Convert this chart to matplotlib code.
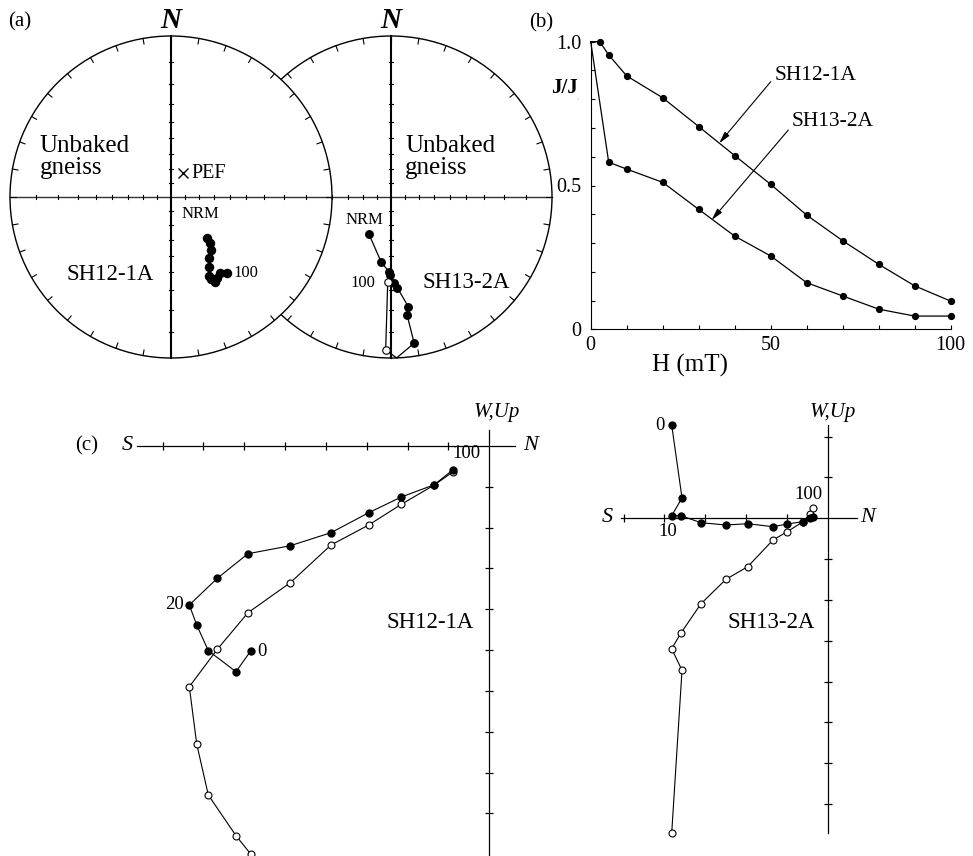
import numpy as np
import matplotlib.pyplot as plt
from matplotlib.patches import Circle

plt.rcParams['font.family'] = ['Liberation Serif', 'DejaVu Serif']

# (a) AF demagnetisation directions: declination / inclination (deg)
sh12_dec = [139.2, 139.5, 143.2, 148.0, 151.2, 154.1, 154.2, 152.5, 150.3, 147.3, 143.7]
sh12_inc = [52.5, 49.1, 45.3, 41.6, 37.4, 32.8, 30.8, 28.7, 29.7, 31.2, 29.4]
sh13_dec = [210.5, 188.8, 181.3, 180.7, 178.0, 176.0, 171.0, 172.2, 171.0, 182.0, 182.2]
sh13_inc = [59.9, 45.8, 39.8, 38.4, 33.9, 31.0, 20.8, 16.8, 4.8, -2.9, -34.4]
sh13_cross_dec = 178.0      # path passes the primitive here
pef_dec, pef_inc = 26.3, 71.4

# (b) normalised remanence vs peak AF field
h_sh12 = [0, 2.5, 5, 10, 20, 30, 40, 50, 60, 70, 80, 90, 100]
j_sh12 = [1.0, 1.0, 0.954, 0.881, 0.805, 0.705, 0.604, 0.504, 0.397, 0.308, 0.226, 0.151, 0.098]
h_sh13 = [0, 5, 10, 20, 30, 40, 50, 60, 70, 80, 90, 100]
j_sh13 = [1.0, 0.581, 0.557, 0.511, 0.417, 0.324, 0.255, 0.162, 0.116, 0.070, 0.046, 0.046]

# (c) vector end-points (one unit = one axis tick)
sh12_n = [-5.844, -6.204, -6.882, -7.166, -7.347, -6.662, -5.910, -4.874, -3.877, -2.954, -2.155, -1.347, -0.896]
sh12_w = [-5.021, -5.528, -5.013, -4.384, -3.894, -3.240, -2.638, -2.442, -2.123, -1.634, -1.249, -0.948, -0.588]
sh12_up = [-9.993, -9.544, -8.548, -7.298, -5.895, -4.979, -4.083, -3.348, -2.425, -1.935, -1.428, -0.955, -0.637]
sh13_n = [-3.821, -3.568, -3.821, -3.593, -3.103, -2.491, -1.959, -1.340, -0.989, -0.617, -0.434, -0.367]
sh13_w = [2.285, 0.497, 0.064, 0.064, -0.108, -0.164, -0.132, -0.206, -0.140, -0.083, 0.0, 0.024]
sh13_up = [-7.715, -3.723, -3.194, -2.809, -2.092, -1.494, -1.185, -0.531, -0.328, -0.09, 0.10, 0.245]

W, H = 973, 856
fig = plt.figure(figsize=(W / 100, H / 100), dpi=100)


def rect(x0, y0, x1, y1):
    return [x0 / W, 1 - y1 / H, (x1 - x0) / W, (y1 - y0) / H]


def ftext(x, y, s, **kw):
    fig.text(x / W, 1 - y / H, s, **kw)


def stereo(dec, inc):
    dec = np.radians(np.asarray(dec, float))
    r = np.tan(np.radians(90 - np.abs(np.asarray(inc, float))) / 2)
    return r * np.sin(dec), r * np.cos(dec)


def net(cx, cy, R=161, pad=1.15):
    ax = fig.add_axes(rect(cx - pad * R, cy - pad * R, cx + pad * R, cy + pad * R))
    ax.set_xlim(-pad, pad)
    ax.set_ylim(-pad, pad)
    ax.axis('off')
    ax.add_patch(Circle((0, 0), 1, fc='white', ec='black', lw=1.0, zorder=0))
    ax.plot([-1, 1], [0, 0], color='#333333', lw=1.0, zorder=1)
    ax.plot([0, 0], [-1, 1], color='black', lw=1.5, zorder=1)
    for a in np.radians(np.arange(0, 360, 10)):
        ax.plot([np.sin(a), 0.965 * np.sin(a)], [np.cos(a), 0.965 * np.cos(a)],
                color='black', lw=0.8, zorder=1)
    d = 0.014
    for r in np.tan(np.radians(90 - np.arange(80, 0, -10)) / 2):
        for s in (-1, 1):
            ax.plot([s * r, s * r], [-d, d], color='black', lw=0.8, zorder=1)
            ax.plot([-d, d], [s * r, s * r], color='black', lw=0.8, zorder=1)
    ax.text(0, 1.095, 'N', ha='center', va='center', fontsize=21,
            fontweight='bold', fontstyle='italic')
    return ax


# ---------------- (a) stereonets ----------------
axr = net(391, 197)
axr.set_zorder(1)
sx, sy = stereo(sh13_dec[:9] + [sh13_cross_dec], sh13_inc[:9] + [0])
axr.plot(sx, sy, color='black', lw=0.9, zorder=3)
sx, sy = stereo(sh13_dec[:9], sh13_inc[:9])
axr.plot(sx, sy, 'o', color='black', ms=5.4, zorder=4)
ox, oy = stereo([sh13_cross_dec] + sh13_dec[9:], [0] + sh13_inc[9:])
axr.plot(ox, oy, color='black', lw=0.9, zorder=3)
axr.plot(ox[1:], oy[1:], 'o', mfc='white', mec='black', mew=0.8, ms=5.4, zorder=4)
axr.text(0.087, 0.248, 'Unbaked\ngneiss', ha='left', va='center', fontsize=18, linespacing=0.95)
axr.text(-0.168, -0.143, 'NRM', ha='center', va='center', fontsize=12)
axr.text(-0.177, -0.534, '100', ha='center', va='center', fontsize=12)
axr.text(0.466, -0.534, 'SH13-2A', ha='center', va='center', fontsize=16.5)

axl = net(171, 197)
axl.set_zorder(2)
lx, ly = stereo(sh12_dec, sh12_inc)
axl.plot(lx, ly, '-o', color='black', lw=0.9, ms=5.8, zorder=4)
px, py = stereo([pef_dec], [pef_inc])
axl.plot(px, py, 'x', color='black', ms=7, mew=1.0, zorder=4)
axl.text(0.13, 0.149, 'PEF', ha='left', va='center', fontsize=14.5)
axl.text(-0.814, 0.248, 'Unbaked\ngneiss', ha='left', va='center', fontsize=18, linespacing=0.95)
axl.text(0.18, -0.105, 'NRM', ha='center', va='center', fontsize=12)
axl.text(0.385, -0.472, '100', ha='left', va='center', fontsize=12)
axl.text(-0.376, -0.484, 'SH12-1A', ha='center', va='center', fontsize=16.5)

ftext(20, 22, '(a)', ha='center', va='center', fontsize=15)

# ---------------- (b) intensity decay ----------------
axb = fig.add_axes(rect(590.7, 41.7, 950.7, 329.3))
axb.plot(h_sh12, j_sh12, '-o', color='black', lw=0.9, ms=4.2, markevery=slice(1, None), clip_on=False)
axb.plot(h_sh13, j_sh13, '-o', color='black', lw=0.9, ms=4.2, markevery=slice(1, None), clip_on=False)
axb.set_xlim(0, 100)
axb.set_ylim(0, 1)
axb.spines[['top', 'right']].set_visible(False)
axb.set_xticks([0, 50, 100], ['0', '50', '100'])
axb.set_xticks(np.arange(0, 101, 10), minor=True)
axb.set_yticks([0, 0.5, 1.0], ['0', '0.5', '1.0'])
axb.set_yticks(np.arange(0, 1.01, 0.1), minor=True)
axb.tick_params(which='both', direction='in', length=3, width=0.8, labelsize=14.5)
axb.tick_params(axis='x', pad=5)
axb.tick_params(axis='y', pad=7)

arrow = dict(arrowstyle='-|>,head_length=0.7,head_width=0.18', lw=0.8, color='black',
             shrinkA=0, shrinkB=0)
axb.annotate('', xy=(35.7, 0.647), xytext=(50.0, 0.861), arrowprops=arrow)
axb.text(51.2, 0.881, 'SH12-1A', ha='left', va='center', fontsize=15.5)
axb.annotate('', xy=(33.6, 0.380), xytext=(54.9, 0.693), arrowprops=arrow)
axb.text(55.9, 0.721, 'SH13-2A', ha='left', va='center', fontsize=15.5)

ftext(690, 365, 'H (mT)', ha='center', va='center', fontsize=18)
ftext(564, 88, 'J/J', ha='center', va='center', fontsize=15, fontweight='bold')
ftext(578, 99, 'o', ha='center', va='center', fontsize=3, color='#bbbbbb')
ftext(541, 23, '(b)', ha='center', va='center', fontsize=15)


# ---------------- (c) orthogonal vector plots ----------------
def zij(box, origin, north, west, up, xb, yb, xt, yt, unit=40.83):
    x0, y0, x1, y1 = box
    cx, cy = origin
    ax = fig.add_axes(rect(*box))
    ax.set_xlim((x0 - cx) / unit, (x1 - cx) / unit)
    ax.set_ylim((cy - y1) / unit, (cy - y0) / unit)
    ax.patch.set_visible(False)
    ax.spines[['top', 'right']].set_visible(False)
    for s, b in (('bottom', xb), ('left', yb)):
        ax.spines[s].set_position(('data', 0))
        ax.spines[s].set_bounds(*b)
        ax.spines[s].set_linewidth(0.9)
    ax.set_xticks(xt)
    ax.set_yticks(yt)
    ax.tick_params(direction='inout', length=6, width=0.9, labelbottom=False, labelleft=False)
    ax.plot(north, up, '-o', color='black', lw=0.8, ms=5, mfc='white', mec='black', mew=0.8)
    ax.plot(north, west, '-o', color='black', lw=0.8, ms=5)
    return ax


az1 = zij((100, 400, 545, 856), (489.3, 446), sh12_n, sh12_w, sh12_up,
          (-8.64, 0.63), (-10.05, 0.39), np.arange(-8, 0), np.arange(-9, 0))
az1.annotate('0', (sh12_n[0], sh12_w[0]), xytext=(5, 0), textcoords='offset points',
             ha='left', va='center', fontsize=13.5)
az1.annotate('20', (sh12_n[4], sh12_w[4]), xytext=(-4, 0), textcoords='offset points',
             ha='right', va='center', fontsize=13.5)
az1.annotate('100', (sh12_n[-1], sh12_w[-1]), xytext=(0, 6), textcoords='offset points',
             ha='left', va='bottom', fontsize=13.5)
ftext(430, 623, 'SH12-1A', ha='center', va='center', fontsize=16.5)
ftext(87, 446, '(c)', ha='center', va='center', fontsize=15)
ftext(127, 446, 'S', ha='center', va='center', fontsize=16, fontstyle='italic')
ftext(531, 446, 'N', ha='center', va='center', fontsize=16, fontstyle='italic')
ftext(497, 413, 'W,Up', ha='center', va='center', fontsize=15, fontstyle='italic')

az2 = zij((590, 400, 900, 856), (827.7, 518.3), sh13_n, sh13_w, sh13_up,
          (-5.06, 0.71), (-7.71, 2.285), np.arange(-5, 0), [-7, -6, -5, -4, -3, -2, -1, 1, 2])
az2.annotate('0', (sh13_n[0], sh13_w[0]), xytext=(-5, 0), textcoords='offset points',
             ha='right', va='center', fontsize=13.5)
az2.annotate('10', (sh13_n[2], sh13_w[2]), xytext=(-3, -5), textcoords='offset points',
             ha='center', va='top', fontsize=13.5)
az2.annotate('100', (sh13_n[-1], sh13_up[-1]), xytext=(-3, 4), textcoords='offset points',
             ha='center', va='bottom', fontsize=13.5)
ftext(771, 622, 'SH13-2A', ha='center', va='center', fontsize=16.5)
ftext(607, 518, 'S', ha='center', va='center', fontsize=16, fontstyle='italic')
ftext(868, 518, 'N', ha='center', va='center', fontsize=16, fontstyle='italic')
ftext(833, 413, 'W,Up', ha='center', va='center', fontsize=15, fontstyle='italic')

fig.savefig('out.png', dpi=100)
